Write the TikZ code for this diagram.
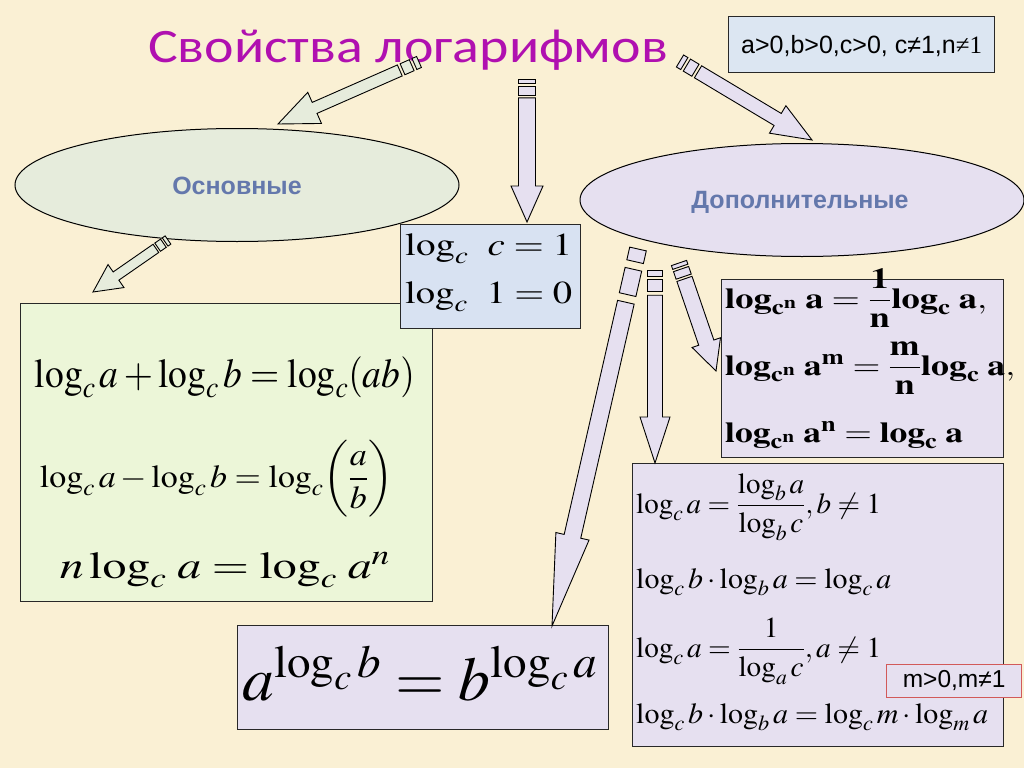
\documentclass[tikz,border=0pt]{standalone}
\usepackage{amsmath}
\usepackage{mathptmx}
\usepackage{graphicx}
\usepackage[no-math]{fontspec}
\setmainfont{Liberation Serif}
\newfontfamily\titlefont{Carlito}
\newfontfamily\sansfont{Liberation Sans}
\usetikzlibrary{calc,shapes.geometric}
\definecolor{bgcol}{RGB}{250,240,212}
\definecolor{titlecol}{RGB}{176,16,176}
\definecolor{greyfill}{RGB}{230,236,220}
\definecolor{lavfill}{RGB}{230,224,240}
\definecolor{bluefill}{RGB}{216,226,242}
\definecolor{condfill}{RGB}{220,230,242}
\definecolor{greenfill}{RGB}{236,246,216}
\definecolor{labelcol}{RGB}{100,120,172}
\definecolor{linecol}{RGB}{40,40,40}
\definecolor{pinkline}{RGB}{210,90,90}
\tikzset{
  box/.style={draw=linecol, line width=1.2pt, anchor=north west, inner sep=0pt},
  oval/.style={ellipse, draw=black, line width=1pt, inner sep=0pt, minimum width=444pt, minimum height=113pt},
  formula/.style={inner sep=0pt, anchor=base west},
  cformula/.style={inner sep=0pt, anchor=base},
  arrowline/.style={draw=black, line width=0.9pt, line join=miter},
  ovallabel/.style={text=labelcol, inner sep=0pt, font=\sansfont\bfseries\fontsize{25}{30}\selectfont},
}
% #1 tail, #2 tip, #3 fill, #4 shaft half width, #5 head half width, #6 head length, #7 piece unit
\newcommand\barrow[7]{%
  \coordinate (bA) at (#1);
  \coordinate (bB) at (#2);
  \coordinate (bp1) at ($(bA)!#7pt!(bB)$);
  \coordinate (bp2) at ($(bA)!1.6*#7pt!(bB)$);
  \coordinate (bp3) at ($(bA)!3.6*#7pt!(bB)$);
  \coordinate (bs) at ($(bA)!4.2*#7pt!(bB)$);
  \coordinate (bh) at ($(bB)!#6pt!(bA)$);
  \draw[arrowline, fill=#3] ($(bA)!#4pt!90:(bB)$) -- ($(bp1)!#4pt!90:(bB)$) -- ($(bp1)!#4pt!-90:(bB)$) -- ($(bA)!#4pt!-90:(bB)$) -- cycle;
  \draw[arrowline, fill=#3] ($(bp2)!#4pt!90:(bB)$) -- ($(bp3)!#4pt!90:(bB)$) -- ($(bp3)!#4pt!-90:(bB)$) -- ($(bp2)!#4pt!-90:(bB)$) -- cycle;
  \draw[arrowline, fill=#3] ($(bs)!#4pt!90:(bB)$) -- ($(bh)!#4pt!90:(bB)$) -- ($(bh)!#5pt!90:(bB)$) -- (bB) -- ($(bh)!#5pt!-90:(bB)$) -- ($(bh)!#4pt!-90:(bB)$) -- ($(bs)!#4pt!-90:(bB)$) -- cycle;
}
\newcommand\blog{\mathbf{log}}
% #1 target width, #2 font size, #3 math
\newcommand\fitw[3]{\fontsize{#2}{#2}\selectfont\resizebox{#1}{\height}{$#3$}}
\begin{document}
\begin{tikzpicture}[x=1pt,y=-1pt]
\fill[bgcol] (0,0) rectangle (1024,768);
\useasboundingbox (0,0) rectangle (1024,768);

% title
\node[inner sep=0pt, anchor=base, text=titlecol] (title) at (408,63) {\titlefont\fontsize{48}{56}\selectfont\resizebox{520pt}{\height}{Свойства логарифмов}};

% condition box
\node[box, fill=condfill, minimum width=266pt, minimum height=56pt] (cond) at (728,16) {};
\node[inner sep=0pt] (condtext) at ([yshift=-1pt]cond.center) {\sansfont\fontsize{25}{30}\selectfont a>0,b>0,c>0, c≠1,n{\rmfamily ≠1}};

% ovals
\node[oval, fill=greyfill] (osn) at (237,185) {};
\node[ovallabel] (osnlabel) at (237,186) {Основные};
\node[oval, fill=lavfill] (dop) at (802,200) {};
\node[ovallabel] (doplabel) at (800,202) {Дополнительные};

% basic properties box
\node[box, fill=greenfill, minimum width=412pt, minimum height=298pt] (basic) at (20,303) {};
\node[cformula] (f1) at (225,387) {\fitw{380pt}{41}{\log_c a+\log_c b=\log_c(ab)}};
\node[cformula] (f2) at (216.5,487) {\fitw{353pt}{32}{\log_c a-\log_c b=\log_c\biggl(\dfrac{a}{b}\biggr)}};
\node[cformula] (f3) at (225,578) {\fitw{330pt}{38}{n\log_c\, a=\log_c\, a^n}};

% unit box
\node[box, fill=bluefill, minimum width=180pt, minimum height=104pt] (unit) at (400,224) {};
\node[formula] (u1) at (405,255) {\fitw{167pt}{32}{\log_c\hspace{12pt}c=1}};
\node[formula] (u2) at (405,303) {\fitw{167pt}{32}{\log_c\hspace{12pt}1=0}};

% extra box 1
\node[box, fill=lavfill, minimum width=282pt, minimum height=178pt] (extraA) at (721,279) {};
\node[formula] (e1) at (725,308) {\fitw{262pt}{29}{\blog_{\mathbf{c}^{\mathbf{n}}}\;\mathbf{a}=\dfrac{\mathbf{1}}{\mathbf{n}}\blog_{\mathbf{c}}\;\mathbf{a},}};
\node[formula] (e2) at (725,375) {\fitw{290pt}{29}{\blog_{\mathbf{c}^{\mathbf{n}}}\;\mathbf{a}^{\mathbf{m}}=\dfrac{\mathbf{m}}{\mathbf{n}}\blog_{\mathbf{c}}\;\mathbf{a},}};
\node[formula] (e3) at (725,442) {\fitw{238pt}{29}{\blog_{\mathbf{c}^{\mathbf{n}}}\;\mathbf{a}^{\mathbf{n}}=\blog_{\mathbf{c}}\;\mathbf{a}}};

% extra box 2
\node[box, fill=lavfill, minimum width=371pt, minimum height=283pt] (extraB) at (632,463) {};
\node[formula] (g1) at (636,513) {\fitw{245pt}{29}{\log_c a=\dfrac{\log_b a}{\log_b c},b\neq1}};
\node[formula] (g2) at (636,588) {\fitw{255pt}{29}{\log_c b\cdot\log_b a=\log_c a}};
\node[formula] (g3) at (636,657) {\fitw{245pt}{29}{\log_c a=\dfrac{1}{\log_a c},a\neq1}};
\node[formula] (g4) at (636,723) {\fitw{352pt}{29}{\log_c b\cdot\log_b a=\log_c m\cdot\log_m a}};

% m condition
\node[draw=pinkline, fill=lavfill, line width=1.2pt, minimum width=135pt, minimum height=33pt, anchor=north west, inner sep=0pt] (mcond) at (886,664) {};
\node[inner sep=0pt] (mcondtext) at ([xshift=0pt,yshift=1pt]mcond.center) {\sansfont\fontsize{24.5}{28}\selectfont m>0,m≠1};

% power box
\node[box, fill=lavfill, minimum width=371pt, minimum height=104pt] (power) at (237,625) {};
\node[cformula] (p1) at (420,700) {\fitw{355pt}{62}{a^{\log_c b}=b^{\log_c a}}};

% arrows
\coordinate (t1) at (419,62);  \coordinate (h1) at (278,124);
\coordinate (t2) at (527,79);  \coordinate (h2) at (527,222);
\coordinate (t3) at (680,61);  \coordinate (h3) at (812,140);
\coordinate (t4) at (168,240); \coordinate (h4) at (93,292);
\coordinate (t5) at (638,249); \coordinate (h5) at (552,626);
\coordinate (t6) at (655,270); \coordinate (h6) at (655,463);
\coordinate (t7) at (679,263); \coordinate (h7) at (716,371);
\barrow{t1}{h1}{greyfill}{6}{17}{40}{5}
\barrow{t2}{h2}{lavfill}{8.5}{16}{36}{4.5}
\barrow{t3}{h3}{lavfill}{7}{16}{40}{5}
\barrow{t4}{h4}{greyfill}{5}{14}{28}{3.5}
\barrow{t5}{h5}{lavfill}{8.5}{17}{92}{13}
\barrow{t6}{h6}{lavfill}{7.5}{15}{46}{6}
\barrow{t7}{h7}{lavfill}{8}{15}{30}{4}
\end{tikzpicture}
\end{document}
